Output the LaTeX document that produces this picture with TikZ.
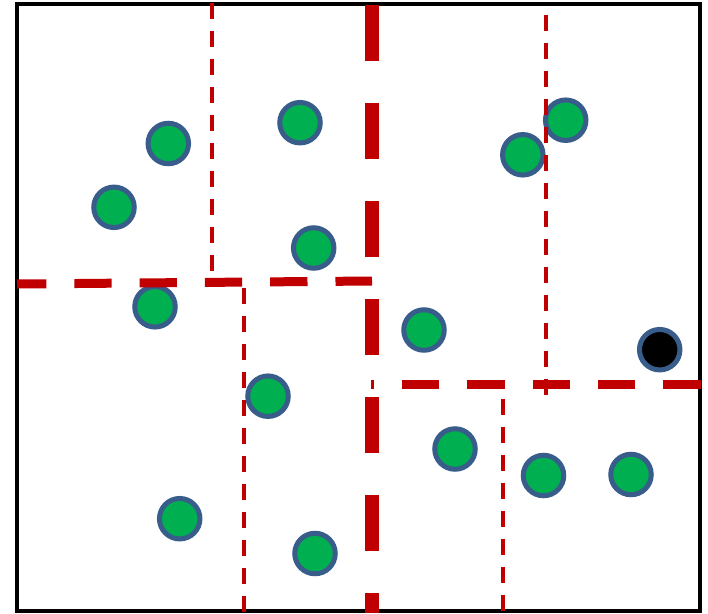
\documentclass[tikz,border=0pt]{standalone}
\definecolor{pred}{HTML}{C00000}
\definecolor{pgreen}{HTML}{00B050}
\definecolor{pborder}{HTML}{385D8A}
\begin{document}
\begin{tikzpicture}[x=1pt,y=-1pt,
  pt/.style={circle,draw=pborder,line width=5pt,fill=pgreen,minimum size=40.5pt,inner sep=0pt},
  query/.style={pt,fill=black},
  thickdash/.style={pred,line width=14pt,dash pattern=on 56pt off 42pt},
  middash/.style={pred,line width=9pt,dash pattern=on 37.3pt off 28pt},
  thindash/.style={pred,line width=4pt,dash pattern=on 16pt off 12pt},
  frame/.style={black,line width=4.5pt}]
\useasboundingbox (0,0) rectangle (708,613);
\draw[frame] (17,4.2) rectangle (700,611);
% points
\node[pt] (c1) at (168.3,143.5) {};
\node[pt] (c2) at (300,122.7) {};
\node[pt] (c3) at (114,207.3) {};
\node[pt] (c4) at (313.7,248) {};
\node[pt] (c5) at (155,306.8) {};
\node[pt] (c6) at (424,330) {};
\node[query] (q) at (659.7,349.7) {};
\node[pt] (c8) at (268,396.2) {};
\node[pt] (c9) at (455,449) {};
\node[pt] (c10) at (543.5,475.5) {};
\node[pt] (c11) at (631,474.5) {};
\node[pt] (c12) at (179.7,518.7) {};
\node[pt] (c13) at (315,553.5) {};
\node[pt] (c14) at (522.8,154.8) {};
\node[pt] (c15) at (565.7,120.2) {};
% partition lines
\draw[thickdash] (371.5,5) -- (371.5,613);
\draw[middash,dash phase=8pt] (17,284) -- (372,281);
\draw[middash,dash phase=34.3pt] (371,384.5) -- (701,384.5);
\draw[thindash] (212.3,2.7) -- (212.3,271);
\draw[thindash] (243.5,288.3) -- (243.5,613);
\draw[thindash] (545.7,14.7) -- (545.7,394.7);
\draw[thindash] (503,398.5) -- (503,613);
\end{tikzpicture}
\end{document}
